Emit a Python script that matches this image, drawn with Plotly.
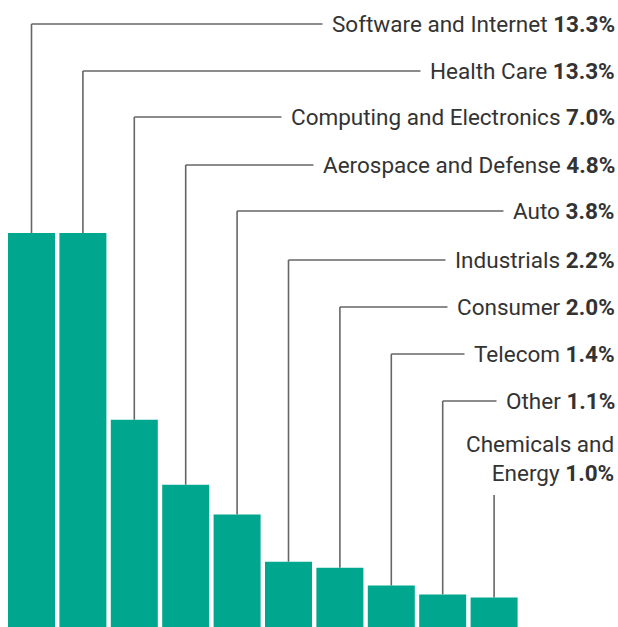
import plotly.graph_objects as go

categories = ["Software and Internet", "Health Care", "Computing and Electronics",
              "Aerospace and Defense", "Auto", "Industrials", "Consumer",
              "Telecom", "Other", "Chemicals and<br>Energy"]
values = [13.3, 13.3, 7.0, 4.8, 3.8, 2.2, 2.0, 1.4, 1.1, 1.0]
value_labels = ["13.3%", "13.3%", "7.0%", "4.8%", "3.8%", "2.2%", "2.0%", "1.4%", "1.1%", "1.0%"]

# label rows (pixel y from top of the 627px canvas) — layout only
W, H = 618, 627
label_px = [24, 71, 117, 165, 211, 260, 307, 354, 401, 458]
chem_line_top_px = 495
text_right_px = 615
pad = 9

BAR = "#00A78E"
LINE = "#666666"
TEXT = "#333333"
FONT = "Roboto"
FS = 22.5

PX_PER_UNIT = 394 / 13.3
y_max = H / PX_PER_UNIT
pitch = 51.4
x0 = -31.5 / pitch
x1 = (W - 31.5) / pitch


def py(p):
    return (H - p) / PX_PER_UNIT


xs = list(range(len(categories)))
fig = go.Figure(go.Bar(x=xs, y=values, marker=dict(color=BAR, line=dict(width=0)),
                       width=47 / pitch, hoverinfo="skip"))

shapes = []
annotations = []
for i, (c, v, lab, lp) in enumerate(zip(categories, values, value_labels, label_px)):
    last = i == len(categories) - 1
    top = py(chem_line_top_px) if last else py(lp)
    shapes.append(dict(type="line", xref="x", yref="y", x0=i, x1=i, y0=v, y1=top,
                       line=dict(color=LINE, width=1.6), layer="below"))
    if not last:
        shapes.append(dict(type="line", xref="x", yref="y", x0=i, x1=x1 - 0.1, y0=top, y1=top,
                           line=dict(color=LINE, width=1.6), layer="below"))
        annotations.append(dict(xref="paper", yref="paper", x=text_right_px / W, y=1 - lp / H,
                                xshift=pad + 1,
                                xanchor="right", yanchor="middle", showarrow=False,
                                text=f"{c} <b>{lab}</b>", bgcolor="white", borderpad=pad,
                                font=dict(family=FONT, size=FS, color=TEXT)))
    else:
        annotations.append(dict(xref="paper", yref="paper", x=(text_right_px + 1) / W,
                                y=1 - lp / H, align="right",
                                xanchor="right", yanchor="middle", showarrow=False,
                                text=f"{c} <b>{lab}</b>",
                                font=dict(family=FONT, size=FS, color=TEXT)))

fig.update_layout(
    width=W, height=H, margin=dict(l=0, r=0, t=0, b=0),
    paper_bgcolor="white", plot_bgcolor="white", showlegend=False,
    xaxis=dict(range=[x0, x1], visible=False, fixedrange=True),
    yaxis=dict(range=[0, y_max], visible=False, fixedrange=True),
    shapes=shapes, annotations=annotations,
)
fig.write_html("out.html", config={"displayModeBar": False},
               post_script="document.body.style.margin='0';document.body.style.overflow='hidden';")
